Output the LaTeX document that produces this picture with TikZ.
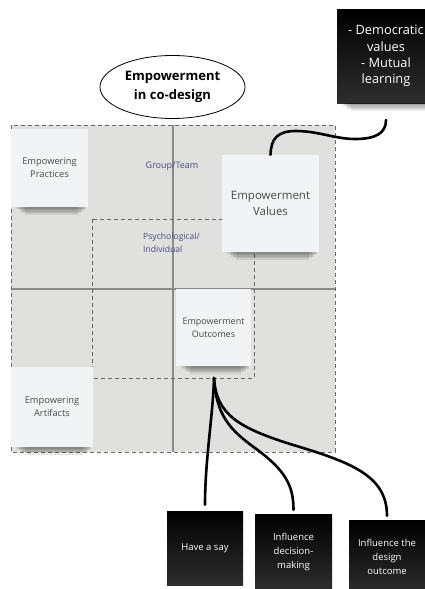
\documentclass[tikz,border=0pt]{standalone}
\usepackage{fontspec}
\setmainfont{Open Sans}
\usetikzlibrary{shapes.geometric}
\definecolor{gridfill}{HTML}{E0E0DE}
\definecolor{dashcol}{HTML}{6A6A6A}
\definecolor{linecol}{HTML}{8A8A8A}
\definecolor{notefill}{HTML}{F1F3F5}
\definecolor{notetext}{HTML}{4A4A4A}
\definecolor{labcol}{HTML}{4C4C7C}
\newcommand\noteshadow[1]{%
  \foreach \h/\l/\r in {1.5/5/2, 3/7/3, 4.5/9/5, 6/11/7, 8/14/10}
    \fill[black, opacity=0.09] ([xshift=\l pt]#1.south west) rectangle ([xshift=-\r pt,yshift=-\h pt]#1.south east);
}
\begin{document}
\begin{tikzpicture}[x=1pt,y=-1pt,
  dashbox/.style={draw=dashcol, line width=0.9pt, dash pattern=on 4pt off 3pt},
  gridline/.style={draw=linecol, line width=1.4pt},
  sticky/.style={fill=notefill, text=notetext, align=center, inner sep=0pt,
     font=\fontsize{9.3}{13}\selectfont},
  blackbox/.style={top color=black, bottom color=black!82!white, text=white, align=center, inner sep=0pt,
     font=\fontsize{9.5}{14}\selectfont},
  conn/.style={draw=black, line width=2.6pt, line cap=round},
  lab/.style={text=labcol, font=\fontsize{9}{13}\selectfont, inner sep=0pt}
]
\useasboundingbox (0,0) rectangle (425,589);
\clip (0,0) rectangle (425,589);
% grey field
\path[fill=gridfill] (11,125) rectangle (335,452);
\draw[gridline] (173,125) -- (173,452);
\draw[gridline] (11,289) -- (335,289);
\draw[dashbox] (11,125) rectangle (335,452);
\draw[dashbox] (92,219) rectangle (254,378);
% labels
\node[lab] (group) at (172,166) {Group/Team};
\node[lab, align=left, anchor=west, font=\fontsize{8.6}{13}\selectfont] (psych) at (143,242.5) {Psychological/\\Individual};
% title ellipse
\node[draw=black, line width=0.8pt, ellipse, minimum width=145pt, minimum height=63pt, align=center,
      font=\bfseries\fontsize{13}{19}\selectfont] (title) at (172.5,87) {Empowerment\\in co-design};
% connectors
\coordinate (vend) at (386,120);
\coordinate (fork) at (214,378);
\node[sticky, minimum width=97pt, minimum height=97pt, font=\fontsize{11.5}{16}\selectfont] (values) at (270.5,203.5) {Empowerment\\Values};
\noteshadow{values}
\draw[conn] (values.north) .. controls (271,138) and (278,131) .. (296,131)
   .. controls (318,131) and (335,139) .. (355,139)
   .. controls (376,139) and (386,133) .. (vend);
\node[sticky, minimum width=77pt, minimum height=78pt] (practices) at (49.5,168) {Empowering\\Practices};
\noteshadow{practices}
\node[sticky, minimum width=75pt, minimum height=77pt, font=\fontsize{9}{13}\selectfont] (outcomes) at (213.5,327.5) {Empowerment\\Outcomes};
\noteshadow{outcomes}
\node[sticky, minimum width=82pt, minimum height=80pt] (artifacts) at (52,407) {Empowering\\Artifacts};
\noteshadow{artifacts}
% black boxes
\node[blackbox, minimum width=98pt, minimum height=94pt, font=\fontsize{12.8}{16.2}\selectfont] (topbox) at (386,56) {- Democratic\\values\\- Mutual\\learning};
\noteshadow{topbox}
\node[blackbox, minimum width=76pt, minimum height=74pt] (say) at (205,548) {Have a say};
\node[blackbox, minimum width=77pt, minimum height=76pt] (decision) at (293.5,552) {Influence\\decision-\\making};
\node[blackbox, minimum width=76pt, minimum height=74pt] (design) at (387,557) {Influence the\\design\\outcome};
\draw[conn] (fork) .. controls (213,415) and (205,460) .. ([yshift=6pt]say.north);
\draw[conn] (fork) .. controls (216,415) and (230,430) .. (255,448)
   .. controls (285,470) and (293.5,485) .. ([yshift=4pt]decision.north);
\draw[conn] (fork) .. controls (216,415) and (240,428) .. (290,444)
   .. controls (350,462) and (387,475) .. ([yshift=4pt]design.north);
\end{tikzpicture}
\end{document}
